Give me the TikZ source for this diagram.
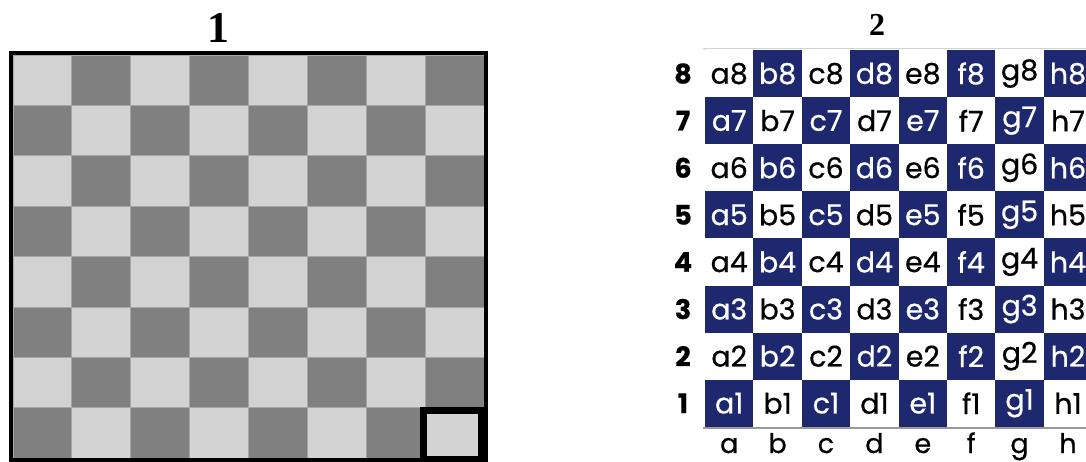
\documentclass[tikz,border=0pt]{standalone}
\usepackage{fontspec}
\setmainfont{Liberation Serif}
\newfontfamily\cellfont{Poppins}[FakeBold=0.6]
\definecolor{lightsq}{RGB}{211,211,211}
\definecolor{darksq}{RGB}{128,128,128}
\definecolor{boardnavy}{RGB}{30,40,110}

\begin{document}
\begin{tikzpicture}[x=1pt,y=-1pt,
  lsq/.style={fill=lightsq,draw=gray!70,line width=0.8pt},
  dsq/.style={fill=darksq,draw=gray!70,line width=0.8pt},
  cell/.style={minimum width=48.4pt,minimum height=47.1pt,inner sep=0pt,
               font=\cellfont\fontsize{28.5}{28.5}\selectfont},
  wcell/.style={cell,fill=white,text=black},
  ncell/.style={cell,fill=boardnavy,text=white},
  rank/.style={font=\cellfont\bfseries\fontsize{27}{27}\selectfont},
  file/.style={anchor=base,inner sep=1pt,font=\cellfont\fontsize{27}{27}\selectfont},
  title/.style={font=\bfseries\fontsize{44}{44}\selectfont}]
  \useasboundingbox (0,0) rectangle (1086,462);

  % board 1: plain grey board, corner square marked
  \foreach \i in {0,...,7}
    \foreach \j in {0,...,7}{
      \pgfmathtruncatemacro\p{mod(\i+\j,2)}
      \ifodd\p
        \path[dsq] ({13+\i*58.875},{55+\j*50.4}) rectangle ++(58.875,50.4);
      \else
        \path[lsq] ({13+\i*58.875},{55+\j*50.4}) rectangle ++(58.875,50.4);
      \fi
    }
  \draw[line width=4pt] (11,53) rectangle (486,460);
  \fill (420,407) rectangle (486,462);
  \fill[lightsq] (427,414) rectangle (478,456);
  \node[title] (t1) at (218,28) {1};

  % board 2: named squares
  \draw[gray!35,line width=1.5pt] (703,48.5) -- (1086,48.5);
  \draw[gray!35,line width=1pt] (705,48) -- (705,427);
  \foreach \f [count=\i from 0] in {a,b,c,d,e,f,g,h}{
    \foreach \r in {1,...,8}{
      \pgfmathtruncatemacro\p{mod(\i+\r,2)}
      \ifodd\p
        \node[ncell] (\f\r) at ({729.2+\i*48.4},{73.55+(8-\r)*47.1}) {\f\r};
      \else
        \node[wcell] (\f\r) at ({729.2+\i*48.4},{73.55+(8-\r)*47.1}) {\f\r};
      \fi
    }
    \node[file] (l\f) at ({729.2+\i*48.4},453) {\f};
  }
  \foreach \r in {1,...,8}
    \node[rank] (n\r) at (683,{73.55+(8-\r)*47.1}) {\r};
  \draw[gray!80,line width=2pt] (703,428) -- (1086,428);
  \node[title,font=\bfseries\fontsize{32}{32}\selectfont] (t2) at (877,25) {2};
\end{tikzpicture}
\end{document}
